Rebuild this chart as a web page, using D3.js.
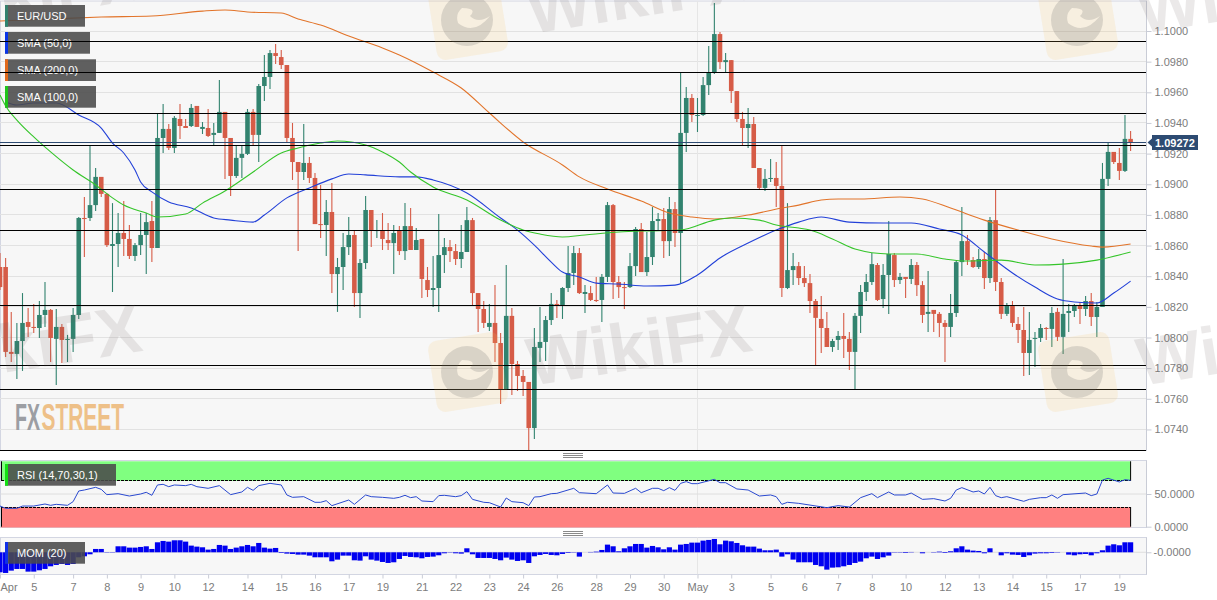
<!DOCTYPE html>
<head>
  <meta charset="UTF-8">
  <style>
    *{ margin: 0px; }
    body{ background-color: white; }
    svg{ position: absolute; font-family: "Liberation Sans", Arial, sans-serif; }
    .axis text{ font-size: 11px; fill: #7c7c7c; font-family: "Liberation Sans", Arial, sans-serif; }
    .axis path, .axis line{ stroke: #c9ccd6; }
    .legend text{ font-size: 11px; fill: white; }
  </style>
  <script src="https://d3js.org/d3.v7.min.js"></script>
</head>
<body>
  <svg id="chart" width="1217" height="600"></svg>
  <script>
    // EUR/USD prices are kept in points (1/100000)
    var opens = [
      108460,108460,107906,107893,107977,108101,108069,108062,108147,108180,
      107991,108069,107984,107991,108147,108780,108780,108864,109048,108937,
      108597,108610,108682,108643,108532,108603,108669,108760,108584,109302,
      109361,109237,109426,109380,109380,109511,109361,109367,109322,109335,
      109472,109302,109054,109172,109198,109472,109322,109641,109700,109856,
      109830,109778,109302,109145,109080,109139,109041,108740,108734,108819,
      108414,108460,108590,108669,108290,108486,108832,108695,108701,108636,
      108616,108701,108564,108727,108571,108643,108375,108310,108323,108538,
      108590,108564,108512,108558,108766,108290,108186,108069,108095,107964,
      107664,108141,107827,107749,107710,107409,107932,107971,108114,108219,
      108212,108323,108421,108551,108284,108290,108245,108245,108395,108864,
      108362,108329,108329,108466,108708,108427,108525,108760,108773,108629,
      108838,108682,109335,109563,109446,109452,109647,109726,109980,109797,
      109810,109608,109426,109367,109393,109106,108976,109035,109041,108989,
      108323,108440,108466,108388,108355,108238,108121,108062,107938,107984,
      108010,107991,107906,108141,108297,108362,108473,108251,108408,108538,
      108375,108395,108382,108473,108342,108154,108180,108154,108095,108069,
      108160,108492,108629,108505,108460,108512,108388,108766,108362,108154,
      108212,108088,108049,107899,107991,107997,108062,108056,108167,108004,
      108160,108173,108206,108186,108238,108134,108199,109035,109211,109139,
      109087,109296
    ];
    var highs = [
      108551,108519,108167,108095,108290,108193,108219,108238,108362,108186,
      108186,108088,108017,108193,108786,108917,109256,109106,109048,108943,
      108877,108812,108890,108734,108616,108812,108812,108890,109459,109524,
      109393,109446,109524,109426,109524,109511,109406,109491,109400,109680,
      109472,109302,109250,109256,109491,109491,109654,109843,109876,109915,
      109876,109778,109400,109145,109393,109178,109074,108995,108897,109008,
      108519,108682,108786,108695,108512,108924,108832,108766,108812,108747,
      108734,108727,108877,108845,108714,108643,108460,108532,108806,108649,
      108636,108610,108734,108851,108780,108290,108238,108219,108342,108030,
      108473,108193,107847,107788,107710,108062,108199,108141,108290,108245,
      108329,108597,108597,108584,108342,108336,108395,108414,108884,108871,
      108401,108362,108551,108721,108747,108688,108851,108812,108845,108917,
      108884,109726,109634,109589,109563,109700,109902,110182,109993,109856,
      109810,109608,109472,109498,109439,109106,109100,109165,109145,109256,
      108877,108551,108492,108466,108414,108251,108271,108167,107991,108043,
      108160,108036,108160,108342,108414,108551,108486,108479,108760,108551,
      108421,108395,108512,108492,108368,108434,108180,108167,108114,108284,
      108499,108851,108669,108525,108577,108558,108786,108969,108388,108225,
      108238,108134,108199,108167,108036,108088,108069,108199,108193,108512,
      108219,108219,108232,108271,108290,108232,109139,109269,109211,109237,
      109452,109348
    ];
    var lows = [
      108310,107873,107840,107730,107782,108004,108030,107997,108069,107840,
      107690,107834,107840,107906,108121,108525,108760,108825,108917,108590,
      108297,108460,108532,108512,108499,108538,108414,108492,108584,109204,
      109224,109204,109296,109367,109374,109374,109328,109309,109256,109335,
      109035,108924,109041,109041,109191,109250,109145,109543,109621,109784,
      109752,109276,109028,108564,109028,109008,108740,108649,108532,108290,
      108167,108310,108538,108199,108128,108447,108590,108649,108571,108571,
      108414,108538,108505,108571,108571,108258,108264,108199,108167,108421,
      108492,108473,108453,108558,108212,108036,108062,108043,107840,107566,
      107658,107625,107651,107619,107266,107338,107840,107847,108082,108128,
      108121,108297,108342,108284,108160,108238,108232,108101,108362,108251,
      108258,108186,108323,108401,108427,108401,108473,108701,108519,108532,
      108590,108355,109211,109406,109341,109446,109582,109719,109752,109732,
      109530,109406,109250,109237,109106,108963,108956,109015,108851,108264,
      108316,108342,108342,108329,108160,107821,107899,107938,107906,107919,
      107867,107788,107664,108030,108238,108342,108238,108193,108154,108329,
      108349,108258,108349,108271,108095,108036,108036,108004,107840,108004,
      108134,108401,108473,108453,108447,108316,108355,108303,108121,108141,
      108069,107964,107749,107756,107808,107971,107984,107938,107977,107893,
      108036,108134,108088,108141,108075,108004,108199,108989,109132,109028,
      109080,109217
    ];
    var closes = [
      108329,107906,107893,107977,108095,108069,108062,108147,108180,107997,
      108069,107984,107991,108147,108780,108773,108864,109048,108937,108603,
      108610,108682,108643,108532,108603,108669,108753,108584,109302,109361,
      109237,109433,109380,109367,109498,109374,109374,109315,109335,109472,
      109302,109054,109172,109198,109472,109322,109641,109700,109856,109837,
      109778,109302,109145,109080,109139,109041,108740,108734,108819,108414,
      108460,108590,108669,108290,108486,108832,108695,108701,108643,108616,
      108682,108564,108727,108571,108636,108382,108310,108323,108538,108590,
      108564,108512,108558,108766,108290,108186,108095,108095,107964,107664,
      108141,107827,107749,107710,107409,107938,107971,108114,108219,108212,
      108323,108421,108551,108290,108297,108245,108238,108395,108864,108362,
      108329,108323,108466,108708,108427,108525,108760,108773,108629,108838,
      108682,109335,109563,109452,109452,109647,109726,109980,109797,109810,
      109608,109426,109367,109393,109106,108976,109035,109041,108989,108323,
      108440,108466,108388,108355,108238,108128,108062,107938,107977,108010,
      107991,107906,108141,108297,108362,108479,108245,108408,108545,108375,
      108395,108382,108473,108342,108147,108167,108154,108095,108069,108160,
      108492,108629,108505,108460,108512,108388,108766,108362,108154,108212,
      108095,108049,107899,107984,107997,108062,108056,108160,108004,108154,
      108173,108206,108186,108238,108134,108199,109035,109211,109145,109087,
      109296,109272
    ];

    var sma200Idx = [0,9,18,27,36,40,44,50,53,57,62,68,71,77,82,87,93,100,103,108,114,119,123,127,133,139,142,146,149,153,160,164,169,175,181,187,194,196,201];
    var sma200 = [110065,110078,110091,110098,110130,110137,110124,110117,110078,110039,109967,109889,109843,109732,109628,109465,109276,109126,109048,108969,108890,108812,108786,108773,108799,108845,108864,108897,108904,108904,108917,108904,108845,108766,108701,108643,108597,108590,108610];

    var sma50Idx = [1,3,6,10,14,18,20,22,24,25,27,30,34,38,41,45,47,51,55,59,62,65,71,74,77,83,89,92,95,98,100,103,106,110,115,120,124,128,133,138,142,146,151,157,162,167,171,175,180,184,188,191,195,198,201];
    var sma50 = [109537,109517,109530,109530,109452,109367,109269,109204,109093,109015,108950,108884,108845,108780,108766,108753,108799,108911,108976,109035,109067,109061,109048,109048,109028,108943,108780,108701,108603,108492,108427,108395,108355,108349,108336,108342,108408,108519,108616,108701,108753,108786,108753,108747,108747,108708,108669,108558,108421,108329,108251,108232,108225,108290,108368];

    var sma100Idx = [0,1,3,6,9,13,17,20,22,26,28,33,36,40,45,50,53,57,60,65,68,71,73,77,83,89,93,96,100,104,110,114,121,127,130,135,138,142,144,148,152,158,163,168,172,178,184,189,195,201];
    var sma100 = [109582,109511,109419,109309,109211,109093,108995,108911,108864,108812,108786,108806,108877,108956,109080,109204,109237,109269,109282,109256,109211,109145,109080,108982,108897,108766,108701,108675,108656,108669,108688,108695,108701,108766,108780,108766,108734,108714,108701,108643,108577,108545,108545,108512,108499,108505,108473,108479,108505,108558];

    var levels = [109931,109729,109462,109250,108966,108698,108207,107816,107662,107264];
    var lastPrice = 109272;
    var priceTicks = [107400,107600,107800,108000,108200,108400,108600,108800,109000,109200,109400,109600,109800,110000];

    var rsiIdx = [0,1,3,4,6,8,9,10,12,13,14,15,17,18,19,21,23,25,26,27,28,29,30,31,33,34,35,37,39,41,43,44,45,46,48,50,51,52,54,56,57,58,59,62,63,65,66,68,70,
      71,72,73,74,75,77,78,79,81,82,83,84,86,87,89,90,91,93,94,95,96,98,99,102,103,106,108,109,111,113,114,116,117,118,119,120,121,122,123,124,127,128,129,131,133,135,137,138,139,140,142,
      147,149,151,153,155,156,158,159,161,162,164,166,168,169,170,171,173,174,175,176,177,178,179,182,183,185,186,187,188,189,193,194,195,196,197,199,200,201];
    var rsi = [31.6,28.1,28.1,31.6,31.6,34.7,32.7,34.2,32.7,38.3,54.6,56.1,60.2,57.1,49,50.5,46.9,50,52.6,48,63.8,64.8,61.2,63.8,62.8,64.8,61.2,58.7,62.8,49,53.1,60.2,55.6,62.8,66.3,63.8,48.5,44.9,45.9,37.3,37.3,39.8,32.2,40.8,34.2,48.5,45.9,44.9,43.4,
      44.9,48,44.4,45.9,39.3,38.3,47.5,48,45.9,47.5,53.6,41.8,37.3,36.7,30.1,43.9,38.3,36.7,32.2,45.4,45.9,50.5,51,58.7,52,50.5,63.8,51.5,51,58.7,52,58.7,58.7,55.1,59.7,55.6,66.3,68.9,65.8,65.8,72.4,67.3,67.3,57.7,56.1,46.9,48.5,45.9,34.2,37.3,35.7,
      29.1,32.2,30.1,44.4,50.5,44.4,53.1,48.5,48.5,51.5,41.8,42.9,39.3,43.4,56.1,59.7,53.1,54.6,50,60.2,47.5,44.4,45.9,38.8,41.8,44.4,44.4,48.5,43.4,49,51.5,47.5,50,71.4,74,68.4,71.9,70.9];

    // momentum (20) in pips, one bar per candle
    var mom = [
      -240,-248,-220,-200,-200,-232,-232,-216,-200,-168,
      -152,-140,-152,-140,-60,-48,-24,40,40,-4,
      -4,72,72,56,56,64,72,40,120,136,
      128,144,144,128,80,68,60,32,40,88,
      80,40,56,72,88,72,112,56,44,52,
      -8,-16,-20,-28,-28,-40,-60,-60,-60,-108,
      -88,-40,-40,-96,-100,-48,-88,-100,-116,-128,
      -120,-80,-44,-56,-60,-72,-56,-52,-36,-12,
      -4,-12,-16,48,-24,-68,-68,-68,-80,-96,
      -64,-88,-104,-96,-128,-48,-32,-20,-32,-36,
      -20,-8,-4,-52,0,4,8,28,92,72,
      12,48,72,100,100,56,76,60,36,60,
      32,92,100,116,116,140,148,160,96,140,
      132,112,84,68,68,44,24,24,32,-52,
      -24,-88,-120,-120,-120,-152,-168,-208,-184,-180,
      -168,-152,-128,-112,-72,-52,-80,-60,-40,-4,
      -4,-8,4,0,-12,0,-4,8,-8,12,
      48,72,32,20,16,-12,48,0,-36,-12,
      -28,-32,-56,-36,-16,-12,-12,-8,-4,0,
      -28,-36,-24,-20,-36,-12,24,80,96,84,
      120,120
    ];

    var dayIdx = [0,6,13,19,25,31,37,44,50,56,62,68,75,81,87,93,99,106,112,118,124,130,137,143,149,155,161,168,174,180,186,192,199];
    var dayLabels = ["Apr","5","7","8","9","10","12","14","15","16","17","19","21","22","23","24","26","28","29","30","May","3","5","6","7","8","10","12","13","14","15","17","19"];

    var upColor = "#32836f", downColor = "#d65c47";
    var plotRight = 1146.5;

    var svg = d3.select("#chart");

    var x = d3.scaleLinear().domain([0, 201]).range([0, 1130.6]);
    var y = d3.scaleLinear().domain([107400, 110000]).range([429.45, 31]);
    var yRsi = d3.scaleLinear().domain([0, 100]).range([526.7, 461.3]);
    var yMom = d3.scaleLinear().domain([-264, 175]).range([574.3, 537.7]);

    var pts = function(v){ return d3.format(".4f")(v / 100000); };
    var crisp = function(v){ return Math.floor(v) + 0.5; };

    // panels
    var panels = [[1, 450.5], [460.5, 527.5], [537.5, 574.5]];
    svg.selectAll("rect.panel")
      .data(panels)
      .enter().append("rect")
      .attr("class", "panel")
      .attr("x", 0.5)
      .attr("y", d => d[0])
      .attr("width", plotRight - 0.5)
      .attr("height", d => d[1] - d[0])
      .attr("fill", "#f7f7f7")
      .attr("stroke", "#d3d6e2")
      .attr("stroke-width", 1);

    // grid
    svg.append("g").selectAll("line")
      .data(priceTicks)
      .enter().append("line")
      .attr("x1", 0).attr("x2", plotRight)
      .attr("y1", d => crisp(y(d))).attr("y2", d => crisp(y(d)))
      .attr("stroke", "#e2e2e2");

    svg.append("g").selectAll("line")
      .data(panels)
      .enter().append("line")
      .attr("x1", crisp(x(124))).attr("x2", crisp(x(124)))
      .attr("y1", d => d[0]).attr("y2", d => d[1])
      .attr("stroke", "#e6e6e6");

    // price pane
    var candles = svg.append("g").selectAll("g")
      .data(d3.range(opens.length))
      .enter().append("g");

    candles.append("line")
      .attr("x1", i => x(i)).attr("x2", i => x(i))
      .attr("y1", i => y(highs[i])).attr("y2", i => y(lows[i]))
      .attr("stroke", i => closes[i] >= opens[i] ? upColor : downColor)
      .attr("stroke-width", 1.1);

    candles.append("rect")
      .attr("x", i => x(i) - 2.3)
      .attr("width", 4.6)
      .attr("y", i => y(Math.max(opens[i], closes[i])))
      .attr("height", i => Math.max(1, Math.abs(y(opens[i]) - y(closes[i]))))
      .attr("fill", i => closes[i] >= opens[i] ? upColor : downColor);

    function drawLine(idx, vals, color){
      var line = d3.line()
        .x(d => x(d))
        .y((d, j) => y(vals[j]))
        .curve(d3.curveMonotoneX);
      svg.append("path")
        .attr("d", line(idx))
        .attr("fill", "none")
        .attr("stroke", color)
        .attr("stroke-width", 1.1);
    }
    drawLine(sma200Idx, sma200, "#e2742a");
    drawLine(sma50Idx, sma50, "#2240d8");
    drawLine(sma100Idx, sma100, "#35c52a");

    // legend boxes
    var legendNames = ["EUR/USD", "SMA (50,0)", "SMA (200,0)", "SMA (100,0)", "RSI (14,70,30,1)", "MOM (20)"];
    var legendColors = ["#2f8470", "#0a35e8", "#e0691c", "#1fc41a", "#12e012", "#1030e8"];
    var legendTops = [5, 32, 59.3, 86, 464, 542];
    var legendRights = [85, 90, 96, 96, 116, 85];

    var fxStreet = svg.append("g").attr("font-family", "'Liberation Sans Narrow', 'Liberation Sans', sans-serif").attr("font-weight", "bold").attr("font-size", 36);
    fxStreet.append("text").attr("x", 15).attr("y", 430).attr("textLength", 25).attr("lengthAdjust", "spacingAndGlyphs").attr("fill", "#9c9ea3").text("FX");
    fxStreet.append("text").attr("x", 41.5).attr("y", 430).attr("textLength", 82.5).attr("lengthAdjust", "spacingAndGlyphs").attr("fill", "#eec088").text("STREET");

    // level lines
    svg.append("g").selectAll("line")
      .data(levels)
      .enter().append("line")
      .attr("x1", 0).attr("x2", plotRight - 0.5)
      .attr("y1", d => crisp(y(d))).attr("y2", d => crisp(y(d)))
      .attr("stroke", "black");

    svg.append("line")
      .attr("x1", 0).attr("x2", plotRight)
      .attr("y1", crisp(y(lastPrice))).attr("y2", crisp(y(lastPrice)))
      .attr("stroke", "#2d4b72")
      .attr("stroke-width", 1);

    // price axis
    svg.append("g")
      .attr("class", "axis")
      .attr("transform", "translate(" + plotRight + ",0)")
      .call(d3.axisRight(y).tickValues(priceTicks).tickFormat(pts).tickSize(5).tickPadding(3))
      .call(g => g.select(".domain").remove());

    // last price tag
    var tag = svg.append("g").attr("transform", "translate(0," + y(lastPrice) + ")");
    tag.append("path")
      .attr("d", "M1147.5,0 L1152,-4 L1152,-7.5 L1198,-7.5 L1198,7.5 L1152,7.5 L1152,4 Z")
      .attr("fill", "#2d4b72");
    tag.append("text")
      .attr("x", 1155).attr("y", 4)
      .attr("font-size", 11).attr("font-weight", "bold").attr("fill", "white")
      .text(d3.format(".5f")(lastPrice / 100000));

    // RSI pane
    var rsiRight = x(201);
    svg.append("rect")
      .attr("x", 1).attr("width", rsiRight - 1)
      .attr("y", yRsi(100)).attr("height", yRsi(70) - yRsi(100))
      .attr("fill", "#80ff80");
    svg.append("rect")
      .attr("x", 1).attr("width", rsiRight - 1)
      .attr("y", yRsi(30)).attr("height", yRsi(0) - yRsi(30) + 0.8)
      .attr("fill", "#ff8080");
    svg.append("line")
      .attr("x1", 0.5).attr("x2", plotRight)
      .attr("y1", yRsi(50)).attr("y2", yRsi(50))
      .attr("stroke", "#dedede");
    svg.append("g").selectAll("line")
      .data([70, 30])
      .enter().append("line")
      .attr("x1", 1).attr("x2", rsiRight)
      .attr("y1", d => crisp(yRsi(d))).attr("y2", d => crisp(yRsi(d)))
      .attr("stroke", "black")
      .attr("stroke-dasharray", "3,1");
    svg.append("g").selectAll("g")
      .data([[100, 70], [30, 0]])
      .enter().append("g").selectAll("line")
      .data(d => [[1.5, d], [rsiRight, d]])
      .enter().append("line")
      .attr("x1", d => d[0]).attr("x2", d => d[0])
      .attr("y1", d => yRsi(d[1][0])).attr("y2", d => yRsi(d[1][1]))
      .attr("stroke", "black");

    svg.append("path")
      .attr("d", d3.line().x(d => x(d)).y((d, j) => yRsi(rsi[j]))(rsiIdx))
      .attr("fill", "none")
      .attr("stroke", "#2a49d0")
      .attr("stroke-width", 1);

    svg.append("g")
      .attr("class", "axis")
      .attr("transform", "translate(" + plotRight + ",0)")
      .call(d3.axisRight(yRsi).tickValues([50, 0]).tickFormat(d3.format(".4f")).tickSize(5).tickPadding(3))
      .call(g => g.select(".domain").remove());

    // momentum pane
    svg.append("line")
      .attr("x1", 0.5).attr("x2", plotRight)
      .attr("y1", yMom(0)).attr("y2", yMom(0))
      .attr("stroke", "#dedede");

    svg.append("g").selectAll("rect")
      .data(mom)
      .enter().append("rect")
      .attr("x", (d, i) => x(i) - 2.6)
      .attr("width", 5.2)
      .attr("y", d => d > 0 ? yMom(d) : yMom(0))
      .attr("height", d => Math.abs(yMom(d) - yMom(0)))
      .attr("fill", "#0000f0");

    svg.append("g")
      .attr("class", "axis")
      .attr("transform", "translate(" + plotRight + ",0)")
      .call(d3.axisRight(yMom).tickValues([0]).tickFormat(() => "-0.0000").tickSize(5).tickPadding(2))
      .call(g => g.select(".domain").remove());

    // time axis
    svg.append("g")
      .attr("class", "axis")
      .attr("transform", "translate(0,574.5)")
      .call(d3.axisBottom(x).tickValues(dayIdx).tickFormat((d, i) => dayLabels[i]).tickSize(4).tickPadding(5))
      .call(g => g.select(".domain").remove())
      .call(g => g.select(".tick text").attr("text-anchor", "start"));

    // right edge of the panes
    svg.append("g").selectAll("line")
      .data(panels)
      .enter().append("line")
      .attr("x1", plotRight).attr("x2", plotRight)
      .attr("y1", d => d[0]).attr("y2", d => d[1])
      .attr("stroke", "#c9ccd6");

    // pane resize handles
    svg.append("g").selectAll("line")
      .data([453.5, 455.5, 457.5, 531.5, 533.5, 535.5])
      .enter().append("line")
      .attr("x1", 563).attr("x2", 583)
      .attr("y1", d => d).attr("y2", d => d)
      .attr("stroke", "#8a8a8a");

    // legend
    var legend = svg.append("g").attr("class", "legend").selectAll("g")
      .data(legendNames)
      .enter().append("g")
      .attr("transform", (d, i) => "translate(5," + legendTops[i] + ")");
    legend.append("rect")
      .attr("width", (d, i) => legendRights[i] - 5)
      .attr("height", 21.7)
      .attr("fill", "#4a4a4a")
      .attr("opacity", 0.88);
    legend.append("rect")
      .attr("width", 3)
      .attr("height", 21.7)
      .attr("fill", (d, i) => legendColors[i]);
    legend.append("text")
      .attr("x", 12).attr("y", 15)
      .text(d => d);

    // level lines run over the legend boxes
    svg.append("g").selectAll("line")
      .data(levels.slice(0, 2))
      .enter().append("line")
      .attr("x1", 0).attr("x2", 100)
      .attr("y1", d => crisp(y(d))).attr("y2", d => crisp(y(d)))
      .attr("stroke", "black");

    // WikiFX watermark over everything
    var marks = [[-610, 0], [0, 0], [610, 0], [-610, -352], [0, -352], [610, -352]];
    var mark = svg.append("g").attr("pointer-events", "none").selectAll("g")
      .data(marks)
      .enter().append("g")
      .attr("transform", d => "translate(" + d[0] + "," + d[1] + ")");
    mark.append("rect")
      .attr("x", 432).attr("y", 336).attr("width", 72).attr("height", 72).attr("rx", 9)
      .attr("transform", "rotate(-9 468 372)")
      .attr("fill", "#f8c25c").attr("opacity", 0.15);
    mark.append("path")
      .attr("d", "M441,372 A26,26 0 1,1 493,372 A26,26 0 1,1 441,372Z M458,375 Q474,388 490,368 Q478,376 470,368 Q478,360 462,360 Q455,366 458,375Z")
      .attr("fill-rule", "evenodd")
      .attr("fill", "#666").attr("opacity", 0.2);
    mark.append("text")
      .attr("transform", "translate(531,386) rotate(-9)")
      .attr("font-size", 68).attr("font-weight", "bold")
      .attr("fill", "#6a5f5f").attr("opacity", 0.13)
      .text("WikiFX");
  </script>
</body>
